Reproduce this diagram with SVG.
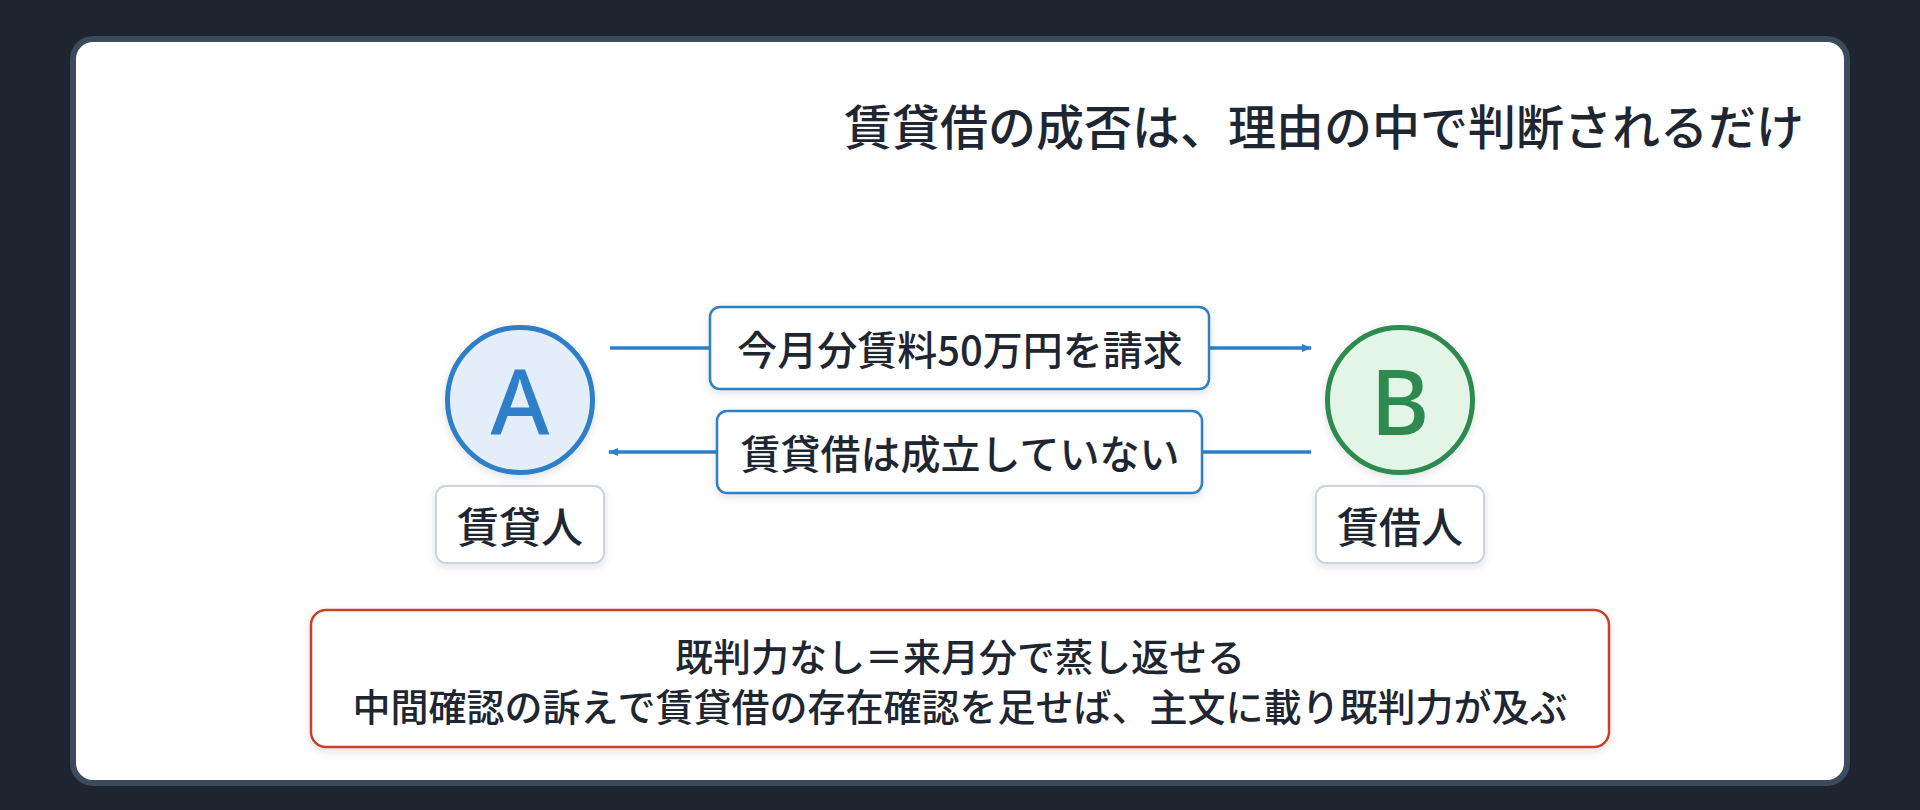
<svg xmlns="http://www.w3.org/2000/svg" width="1920" height="810" viewBox="0 0 1920 810">
  <defs>
    <style>
      .t { font-family: "Noto Sans CJK JP", "Noto Sans", "Liberation Sans", sans-serif; fill: #1e2631; dominant-baseline: central; text-anchor: middle; }
      .title { font-size: 48px; font-weight: 500; text-anchor: end; }
      .lbl { font-size: 40px; font-weight: 500; }
      .role { font-size: 42px; font-weight: 500; }
      .note { font-size: 38px; font-weight: 500; }
      .letter { font-family: "Noto Sans", "Liberation Sans", sans-serif; font-size: 90px; font-weight: 500; dominant-baseline: central; text-anchor: middle; }
      .box { fill: #ffffff; stroke: #2f7fc8; stroke-width: 2.5; }
      .rolebox { fill: #ffffff; stroke: #cbd5e1; stroke-width: 2; }
      .conn { stroke: #2f7fc8; stroke-width: 3.5; fill: none; }
    </style>
    <marker id="ah" markerWidth="10" markerHeight="10" viewBox="0 0 10 10" refX="9" refY="5" orient="auto" markerUnits="userSpaceOnUse">
      <path d="M0,1 L10,5 L0,9 Z" fill="#2f7fc8"/>
    </marker>
    <filter id="sh" x="-10%" y="-20%" width="120%" height="150%">
      <feDropShadow dx="0" dy="3" stdDeviation="4" flood-color="#0f172a" flood-opacity="0.12"/>
    </filter>
  </defs>

  <rect x="0" y="0" width="1920" height="810" fill="#1e2530"/>
  <rect x="73" y="39" width="1774" height="744" rx="20" fill="#ffffff" stroke="#3d4a5c" stroke-width="6"/>

  <g id="title">
    <text class="t title" x="1804" y="124">賃貸借の成否は、理由の中で判断されるだけ</text>
  </g>

  <g id="connectors">
    <line class="conn" x1="610" y1="348" x2="1311" y2="348" marker-end="url(#ah)"/>
    <line class="conn" x1="1311" y1="452" x2="609" y2="452" marker-end="url(#ah)"/>
  </g>

  <g id="label-claim">
    <rect class="box" x="710" y="307" width="499" height="82" rx="10" filter="url(#sh)"/>
    <text class="t lbl" x="960" y="348">今月分賃料50万円を請求</text>
  </g>

  <g id="label-deny">
    <rect class="box" x="717" y="411" width="485" height="82" rx="10" filter="url(#sh)"/>
    <text class="t lbl" x="960" y="452">賃貸借は成立していない</text>
  </g>

  <g id="node-a">
    <circle cx="520" cy="400" r="72.5" fill="#e4eefa" stroke="#2f7fc8" stroke-width="5" filter="url(#sh)"/>
    <text class="letter" x="520" y="400" fill="#2f7fc8">A</text>
  </g>
  <g id="role-a">
    <rect class="rolebox" x="436" y="486" width="168" height="77" rx="10" filter="url(#sh)"/>
    <text class="t role" x="520" y="524">賃貸人</text>
  </g>

  <g id="node-b">
    <circle cx="1400" cy="400" r="72.5" fill="#e3f5e7" stroke="#2e8b4f" stroke-width="5" filter="url(#sh)"/>
    <text class="letter" x="1400" y="400" fill="#2e8b4f">B</text>
  </g>
  <g id="role-b">
    <rect class="rolebox" x="1316" y="486" width="168" height="77" rx="10" filter="url(#sh)"/>
    <text class="t role" x="1400" y="524">賃借人</text>
  </g>

  <g id="note">
    <rect x="311" y="610" width="1298" height="137" rx="15" fill="#ffffff" stroke="#cc4125" stroke-width="2.5" filter="url(#sh)"/>
    <text class="t note" x="960" y="654">既判力なし＝来月分で蒸し返せる</text>
    <text class="t note" x="960" y="704">中間確認の訴えで賃貸借の存在確認を足せば、主文に載り既判力が及ぶ</text>
  </g>
</svg>
